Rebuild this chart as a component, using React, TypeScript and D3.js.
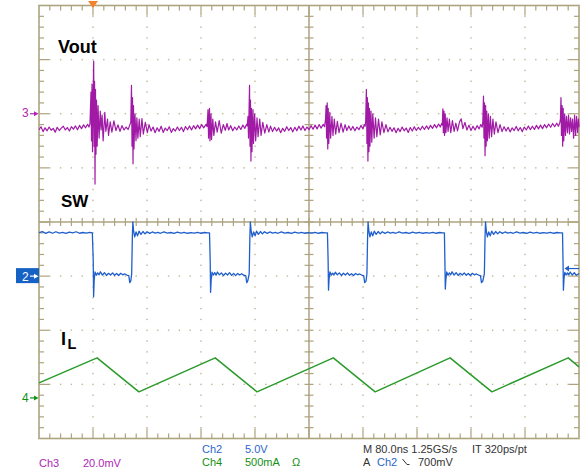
import React from "react";
import * as d3 from "d3";

// time axis (ns), trigger at 0, 80 ns/div, 10 divisions
const TIME_NS: [number, number] = [-80, 720];
const DIVS: [number, number] = [-4, 4];

// Ch3 (Vout, AC, mV) samples [ns, mV]
const VOUT_MV: [number, number][] = [
  [-80, -5.9], [-77, -4.8], [-74, -6.6], [-71, -5.2], [-68, -6.3], [-65, -4.9], [-62, -6.1], [-59, -5.4], [-56, -6.8], [-53, -5.0],
  [-50, -6.2], [-47, -5.3], [-44, -4.6], [-41, -6.0], [-38, -5.1], [-35, -6.4], [-32, -4.8], [-29, -5.7], [-26, -4.5], [-23, -5.9],
  [-20, -4.3], [-17, -5.5], [-14, -4.1], [-11, -5.2], [-8, -3.9], [-6, -4.9], [-4.5, -3.8],
  [-3, 8], [-2.2, -10], [-1.5, 11], [-0.7, -14], [0.2, 6], [1, 19.5], [1.7, -12], [2.3, 12], [3, -26], [3.7, 9], [4.4, -15],
  [5.2, 5], [6.2, -12], [7.5, 3], [9, -9], [10.8, 1], [12, -6], [13.5, -0.5], [15, -10], [17.5, 0.5], [19, -6.5], [21.5, -2],
  [23, -8], [25.5, -3], [28, -6.8], [31, -2.6], [34, -6.2], [37, -4.1], [40, -6.5],
  [43, -4.4], [46, -6.0], [49, -4.9], [52, -5.8], [54.5, -4.2],
  [56, -3], [57, 10.5], [57.8, -12], [58.5, 6], [59.3, -18.5], [60, 3], [60.7, -13], [62.2, 0], [63.7, -10], [65, -1.5],
  [66.5, -9], [68.5, -2], [70, -8.5], [72.5, -1.8], [74.5, -7.5], [77.5, -3.2], [80.5, -7], [83, -4],
  [86, -6.4], [89, -4.9], [92, -7.0], [95, -5.2], [98, -6.5], [101, -4.6], [104, -6.9], [107, -5.3], [110, -6.2], [113, -4.8],
  [116, -6.9], [119, -5.5], [122, -6.4], [125, -4.9], [128, -6.2], [131, -5.0], [134, -6.6], [137, -4.7], [140, -5.9], [143, -4.5],
  [146, -6.0], [149, -4.4], [152, -5.6], [155, -4.2], [158, -5.5], [161, -4.0], [164, -5.2], [167.5, -3.9],
  [169, -4.8], [170.4, 1.5], [171.2, -9], [172.6, 2], [173.3, -10], [174.8, 0], [175.6, -9.5], [177.5, -2], [179, -8], [181.5, -3],
  [184, -6.8], [187, -2.5], [190, -7.2], [193, -4], [196, -6.1], [198.5, -3.6],
  [201, -6.0], [204, -4.4], [207, -6.3], [210, -4.9], [213, -6.0], [216, -4.5], [219, -5.8], [222, -4.2], [225, -5.4], [227.5, -3.9],
  [228.5, -4.5], [229.6, -1], [230.4, -9], [231.9, 10.5], [232.6, -12], [233.3, 5], [234, -17.5], [234.8, 2], [235.5, -14], [237, 1.5],
  [237.8, -11], [239.5, 0], [241, -10], [243, -1.5], [244.5, -8.5], [247, -2], [249, -8], [251.5, -3.2], [254.5, -7.2], [257.5, -4], [260.5, -6.8],
  [263, -4.6], [266, -6.6], [269, -5.0], [272, -6.4], [275, -5.2], [278, -7.0], [281, -5.4], [284, -6.5], [287, -4.8], [290, -6.2],
  [293, -5.1], [296, -6.7], [299, -5.0], [302, -6.3], [305, -4.6], [308, -6.0], [311, -4.5], [314, -6.2], [317, -4.9], [320, -5.9],
  [323, -4.4], [326, -5.7], [329, -4.2], [332, -5.6], [335, -4.0], [338, -5.3], [341, -3.9], [343, -4.8],
  [344.5, -2], [345.3, 3], [346, -9], [347, 4], [347.8, -13], [348.5, 2], [349.3, -11], [350.8, 0.5], [352, -9], [354, -1],
  [355.5, -8], [357.5, -2], [359.5, -7.5], [362, -2.8], [364.5, -7], [367.5, -3.5], [370.5, -6.8], [373.5, -4], [376, -6.2],
  [379, -4.5], [382, -6.1], [385, -4.7], [388, -6.3], [391, -4.9], [394, -5.9], [397, -4.3], [400, -5.6], [402, -4.0], [403.2, -4.6],
  [404, -2.5], [405, 9], [405.8, -11], [406.5, 6], [407.3, -17.5], [408, 4], [408.8, -14], [409.6, 2], [410.3, -12], [411.8, 1],
  [413, -10.5], [414.5, 0], [416.5, -9], [418.5, -1.5], [420.5, -8.5], [423, -2], [425.5, -7.8], [428, -3], [431, -7], [434, -4],
  [437, -6.7], [440, -5.0], [443, -6.5], [446, -5.2], [449, -7.0], [452, -5.4], [455, -6.6], [458, -4.9], [461, -6.3], [464, -5.3],
  [467, -6.9], [470, -5.1], [473, -6.4], [476, -4.8], [479, -6.2], [482, -5.0], [485, -6.0], [488, -4.6], [491, -5.8], [494, -4.5],
  [497, -5.7], [500, -4.3], [503, -5.4], [506, -4.0], [509, -5.2], [512, -3.8], [514.5, -4.9], [516.5, -3.6],
  [517.5, -4.2], [518.3, 1.8], [519, -7], [520, 1], [520.8, -8], [521.8, 0], [522.8, -7], [524.5, -1.5], [526, -6.5], [528, -2],
  [530, -7], [532.5, -2.5], [535, -6.5], [537.5, -3.5], [540, -6.3], [543, -3.0], [545.5, -1.9], [548, -5.5], [551, -3.2], [554, -6.0], [557, -4.2],
  [560, -6.2], [563, -4.6], [566, -6.0], [569, -4.4], [572, -5.6], [574.5, -4.0], [576.5, -5.0],
  [577.5, -3], [578.5, 6.5], [579.2, -9], [580, 4], [580.8, -15.5], [581.6, 3], [582.4, -12], [583.3, 1], [584.2, -10], [585.8, 0],
  [587, -9], [588.8, -1], [590.5, -8.5], [592.5, -2], [594.5, -7.5], [597, -3], [600, -7], [603, -4], [606, -6.6],
  [609, -4.8], [612, -6.4], [615, -5.0], [618, -6.7], [621, -5.2], [624, -6.2], [627, -4.7], [630, -6.3], [633, -5.1], [636, -6.6],
  [639, -4.9], [642, -6.0], [645, -4.5], [648, -5.9], [651, -4.6], [654, -5.8], [657, -4.3], [660, -5.6], [663, -4.2], [666, -5.5],
  [669, -4.0], [672, -5.2], [675, -3.8], [678, -5.0], [681, -3.6], [684, -4.8], [687, -3.5], [689.5, -4.6], [691.5, -3.4],
  [692.5, -2], [693.3, 6], [694, -8], [695, 3], [695.8, -12], [696.6, 2], [697.4, -10], [698.8, 0], [700, -8], [701.5, -1],
  [703, -7], [704.5, -0.5], [706, -7.5], [707.5, -1.5], [709, -6.5], [710.5, -2], [712, -9], [713.5, -0.5], [715, -8], [716.5, -1],
  [718, -7], [719.2, -2], [720, -5],
];

// Ch2 (SW node, V) samples [ns, V]
const SW_V: [number, number][] = [
  [-80, 4.02], [-75, 4.12], [-70, 3.95], [-65, 4.08], [-60, 3.96], [-55, 4.1], [-50, 3.98], [-45, 4.04], [-40, 3.94], [-35, 4.06],
  [-30, 3.99], [-25, 4.1], [-20, 3.96], [-15, 4.03], [-10, 3.97], [-5, 4.05], [-1, 4.0],
  [0.3, 1.5], [0.9, -1.9], [1.8, -0.3], [3, 0.38], [5, 0.08], [7, 0.3], [9, 0.12], [11, 0.4], [14, 0.1], [17, 0.32], [20, 0.06],
  [23, 0.26], [26, 0.1], [29, 0.3], [32, 0.08], [35, 0.24], [38, 0.06], [41, 0.26], [44, 0.12], [47, 0.2], [50, 0.1], [53, 0.04],
  [54.5, -0.6], [56, -0.45], [57.3, 0.2],
  [58.3, 3.6], [59, 5.0], [60.3, 4.1], [61.8, 3.62], [63.8, 4.08], [66, 3.72], [68.2, 4.16], [71, 3.86], [74, 4.12], [77, 3.9],
  [80, 4.1], [84, 3.95], [88, 4.08], [92, 3.97], [96, 4.04], [100, 3.96], [105, 4.08], [110, 3.98], [115, 4.03], [120, 3.95],
  [125, 4.06], [130, 3.98], [135, 4.04], [140, 3.96], [145, 4.02], [150, 3.97], [155, 4.05], [160, 3.96], [165, 4.03], [170, 3.99], [172.6, 4.0],
  [173.6, 1.5], [174.2, -1.5], [175.1, -0.3], [176.3, 0.36], [178.3, 0.1], [180.3, 0.32], [182.3, 0.08], [184.3, 0.38], [187.3, 0.12], [190.3, 0.3],
  [193.3, 0.05], [196.3, 0.28], [199.3, 0.1], [202.3, 0.32], [205.3, 0.07], [208.3, 0.25], [211.3, 0.05], [214.3, 0.24], [217.3, 0.1], [220.3, 0.22],
  [223.3, 0.08], [226.3, 0.05], [227.8, -0.6], [229.3, -0.45], [231.4, 0.2],
  [232.4, 3.6], [233.1, 5.0], [234.4, 4.1], [235.9, 3.62], [237.9, 4.08], [240.1, 3.72], [242.3, 4.16], [245, 3.86], [248, 4.12], [251, 3.9],
  [254, 4.1], [258, 3.95], [262, 4.08], [266, 3.97], [270, 4.04], [274, 3.96], [279, 4.08], [284, 3.98], [289, 4.03], [294, 3.95],
  [299, 4.06], [304, 3.98], [309, 4.04], [314, 3.96], [319, 4.02], [324, 3.97], [329, 4.05], [334, 3.96], [339, 4.03], [344, 3.99], [347.3, 4.0],
  [348.3, 1.5], [348.9, -1.3], [349.8, -0.2], [351, 0.4], [353, 0.1], [355, 0.28], [357, 0.1], [359, 0.36], [362, 0.12], [365, 0.3],
  [368, 0.06], [371, 0.27], [374, 0.1], [377, 0.3], [380, 0.07], [383, 0.23], [386, 0.06], [389, 0.25], [392, 0.12], [395, 0.2],
  [398, 0.1], [401, 0.04], [402.5, -0.6], [404.5, -0.45], [405.8, 0.2],
  [406.8, 3.6], [407.5, 5.0], [408.8, 4.1], [410.3, 3.62], [412.3, 4.08], [414.5, 3.72], [416.7, 4.16], [419.5, 3.86], [422.5, 4.12], [425.5, 3.9],
  [428.5, 4.1], [432.5, 3.95], [436.5, 4.08], [440.5, 3.97], [444.5, 4.04], [448.5, 3.96], [453.5, 4.08], [458.5, 3.98], [463.5, 4.03], [468.5, 3.95],
  [473.5, 4.06], [478.5, 3.98], [483.5, 4.04], [488.5, 3.96], [493.5, 4.02], [498.5, 3.97], [503.5, 4.05], [508.5, 3.96], [513.5, 4.03], [518, 3.99], [520.6, 4.0],
  [521.3, 1.5], [521.9, -1.2], [522.8, -0.3], [524, 0.38], [526, 0.08], [528, 0.3], [530, 0.12], [532, 0.4], [535, 0.1], [538, 0.32],
  [541, 0.06], [544, 0.26], [547, 0.1], [550, 0.3], [553, 0.08], [556, 0.24], [559, 0.06], [562, 0.26], [565, 0.12], [568, 0.2],
  [571, 0.1], [574, 0.04], [575.5, -0.6], [577.5, -0.45], [579.8, 0.2],
  [580.8, 3.6], [581.5, 5.0], [582.8, 4.1], [584.3, 3.62], [586.3, 4.08], [588.5, 3.72], [590.7, 4.16], [593.5, 3.86], [596.5, 4.12], [599.5, 3.9],
  [602.5, 4.1], [606.5, 3.95], [610.5, 4.08], [614.5, 3.97], [618.5, 4.04], [622.5, 3.96], [627.5, 4.08], [632.5, 3.98], [637.5, 4.03], [642.5, 3.95],
  [647.5, 4.06], [652.5, 3.98], [657.5, 4.04], [662.5, 3.96], [667.5, 4.02], [672.5, 3.97], [677.5, 4.05], [682.5, 3.96], [687.5, 4.03], [692, 3.99], [695.6, 4.0],
  [696.3, 1.5], [696.9, -1.3], [697.8, -0.2], [699, 0.35], [701, 0.1], [703, 0.3], [705, 0.12], [707, 0.38], [710, 0.1], [713, 0.32],
  [716, 0.08], [720, 0.25],
];

// Ch4 (inductor current, mA) samples [ns, mA]
const IL_MA: [number, number][] = [
  [-80, 139], [6, 370], [68, 56], [181, 370], [243, 56], [356, 370], [418, 56], [529, 370], [591, 56], [704, 370], [720, 287],
];

const CH3 = { perDiv: 20, offsetDiv: 2 };
const CH2 = { perDiv: 5, offsetDiv: -1 };
const CH4 = { perDiv: 500, offsetDiv: -3.25 };
const TRIGGER_V = 0.7;

const TRACE_LABELS = ["Vout", "SW", "I", "L"];
const READOUT_ROW1 = ["Ch2", "5.0V", "M 80.0ns 1.25GS/s", "IT 320ps/pt"];
const READOUT_ROW2 = ["Ch3", "20.0mV", "Ch4", "500mA", "Ω", "A", "Ch2", "700mV"];

const PURPLE = "#a01aa6";
const PURPLE_TXT = "#b025b5";
const BLUE = "#1f5fcc";
const BLUE_TXT = "#2a66cc";
const GREEN = "#2a9a2a";
const GREEN_TXT = "#149014";
const DARK = "#333333";
const GRID = "#ada37e";
const DOT = "#bfb693";
const FONT = "'Liberation Sans', Arial, sans-serif";

export default function App() {
  const W = 580, H = 471;
  const left = 39, right = 579, top = 5.5, bottom = 438.5;
  const x = d3.scaleLinear().domain(TIME_NS).range([left, right]);
  const y = d3.scaleLinear().domain(DIVS).range([bottom, top]);
  const lineFor = (ch: { perDiv: number; offsetDiv: number }) =>
    d3.line<[number, number]>()
      .x((d) => x(d[0]))
      .y((d) => y(d[1] / ch.perDiv + ch.offsetDiv));

  const xMinor = d3.range(0, 51).map((i) => left + (i * (right - left)) / 50);
  const yMinor = d3.range(0, 41).map((j) => top + (j * (bottom - top)) / 40);
  const cx = x(320);
  const cy = y(0);

  const dots: JSX.Element[] = [];
  [1, 2, 3, 4, 6, 7, 8, 9].forEach((i) => {
    const gx = xMinor[i * 5];
    yMinor.slice(1, 40).forEach((yy, k) => {
      dots.push(<rect key={`v${i}-${k}`} x={gx - 0.7} y={yy - 0.7} width={1.4} height={1.4} fill={DOT} />);
    });
  });
  [1, 2, 3, 5, 6, 7].forEach((j) => {
    const gy = yMinor[j * 5];
    xMinor.slice(1, 50).forEach((xx, k) => {
      if (k % 5 === 4) return;
      dots.push(<rect key={`h${j}-${k}`} x={xx - 0.7} y={gy - 0.7} width={1.4} height={1.4} fill={DOT} />);
    });
  });

  const ticks: JSX.Element[] = [];
  xMinor.slice(1, 50).forEach((xx, k) => {
    const len = (k + 1) % 5 === 0 ? 10 : 5;
    ticks.push(<line key={`tt${k}`} x1={xx} x2={xx} y1={top} y2={top + len} />);
    ticks.push(<line key={`tb${k}`} x1={xx} x2={xx} y1={bottom} y2={bottom - len} />);
    ticks.push(<line key={`tc${k}`} x1={xx} x2={xx} y1={cy - 4} y2={cy + 4} />);
  });
  yMinor.slice(1, 40).forEach((yy, k) => {
    const len = (k + 1) % 5 === 0 ? 10 : 5;
    ticks.push(<line key={`tl${k}`} x1={left} x2={left + len} y1={yy} y2={yy} />);
    ticks.push(<line key={`tr${k}`} x1={right} x2={right - len} y1={yy} y2={yy} />);
    ticks.push(<line key={`tv${k}`} x1={cx - 4.5} x2={cx + 4.5} y1={yy} y2={yy} />);
  });

  const ch3Y = y(CH3.offsetDiv);
  const ch2Y = y(CH2.offsetDiv);
  const ch4Y = y(CH4.offsetDiv);
  const trigY = y(TRIGGER_V / CH2.perDiv + CH2.offsetDiv);

  const arrow = (y0: number, color: string, key: string) => (
    <g key={key}>
      <line x1={30} x2={36} y1={y0} y2={y0} stroke={color} strokeWidth={1.2} />
      <path d={`M34,${y0 - 2.5} L38.5,${y0} L34,${y0 + 2.5} Z`} fill={color} />
    </g>
  );

  return (
    <svg width={W} height={H} style={{ position: "absolute", left: 0, top: 0, background: "#fff" }} fontFamily={FONT}>
      <rect x={0} y={0} width={W} height={H} fill="#fff" />
      {dots}
      <g stroke={GRID} strokeWidth={1.2}>
        {ticks}
        <line x1={cx} x2={cx} y1={top} y2={bottom} strokeWidth={1.5} />
        <line x1={left} x2={right} y1={cy} y2={cy} strokeWidth={1.5} />
        <rect x={left} y={top} width={right - left} height={bottom - top} fill="none" strokeWidth={1.6} />
      </g>

      {/* trigger position marker */}
      <path d={`M${x(0) - 5},1 L${x(0) + 5},1 L${x(0)},8 Z`} fill="#f5822a" />

      {/* traces */}
      <path d={lineFor(CH4)(IL_MA) || ""} fill="none" stroke={GREEN} strokeWidth={1.5} strokeLinejoin="round" />
      <path d={lineFor(CH2)(SW_V) || ""} fill="none" stroke={BLUE} strokeWidth={1.3} strokeLinejoin="round" />
      <path d={lineFor(CH3)(VOUT_MV) || ""} fill="none" stroke={PURPLE} strokeWidth={1.2} strokeLinejoin="round" />

      {/* trigger level marker */}
      <line x1={567} x2={579} y1={trigY} y2={trigY} stroke={BLUE} strokeWidth={1.2} />
      <path d={`M569,${trigY - 3} L564.5,${trigY} L569,${trigY + 3} Z`} fill={BLUE} />

      {/* channel markers */}
      <text x={22} y={117} fontSize={12} fill={PURPLE_TXT}>3</text>
      {arrow(ch3Y, PURPLE_TXT, "a3")}
      <rect x={16} y={ch2Y - 8} width={23} height={15} fill="#1561c4" />
      <text x={22} y={ch2Y + 4.5} fontSize={12} fill="#fff">2</text>
      {arrow(ch2Y, "#fff", "a2")}
      <text x={22} y={ch4Y + 4.5} fontSize={12} fill={GREEN_TXT}>4</text>
      {arrow(ch4Y, GREEN_TXT, "a4")}

      {/* trace labels */}
      <g fontWeight="bold" fill="#000">
        <text x={58} y={53} fontSize={18}>{TRACE_LABELS[0]}</text>
        <text x={61} y={207} fontSize={17}>{TRACE_LABELS[1]}</text>
        <text x={61} y={345} fontSize={18}>{TRACE_LABELS[2]}</text>
        <text x={67.5} y={349} fontSize={14.5}>{TRACE_LABELS[3]}</text>
      </g>

      {/* readouts */}
      <g fontSize={11}>
        <text x={202} y={453} fill={BLUE_TXT}>{READOUT_ROW1[0]}</text>
        <text x={245} y={453} fill={BLUE_TXT}>{READOUT_ROW1[1]}</text>
        <text x={363} y={453} fill={DARK}>{READOUT_ROW1[2]}</text>
        <text x={472} y={453} fill={DARK}>{READOUT_ROW1[3]}</text>
        <text x={39} y={466.5} fill={PURPLE_TXT}>{READOUT_ROW2[0]}</text>
        <text x={83} y={466.5} fill={PURPLE_TXT}>{READOUT_ROW2[1]}</text>
        <text x={202} y={466} fill={GREEN_TXT}>{READOUT_ROW2[2]}</text>
        <text x={245} y={466} fill={GREEN_TXT}>{READOUT_ROW2[3]}</text>
        <text x={292} y={466} fill={GREEN_TXT}>{READOUT_ROW2[4]}</text>
        <text x={363} y={466} fill={DARK}>{READOUT_ROW2[5]}</text>
        <text x={377} y={466} fill={BLUE_TXT}>{READOUT_ROW2[6]}</text>
        <path d="M402.5,459 L407,464.5 L409.5,464.5" fill="none" stroke={DARK} strokeWidth={1} />
        <text x={418} y={466} fill={DARK}>{READOUT_ROW2[7]}</text>
      </g>
    </svg>
  );
}
